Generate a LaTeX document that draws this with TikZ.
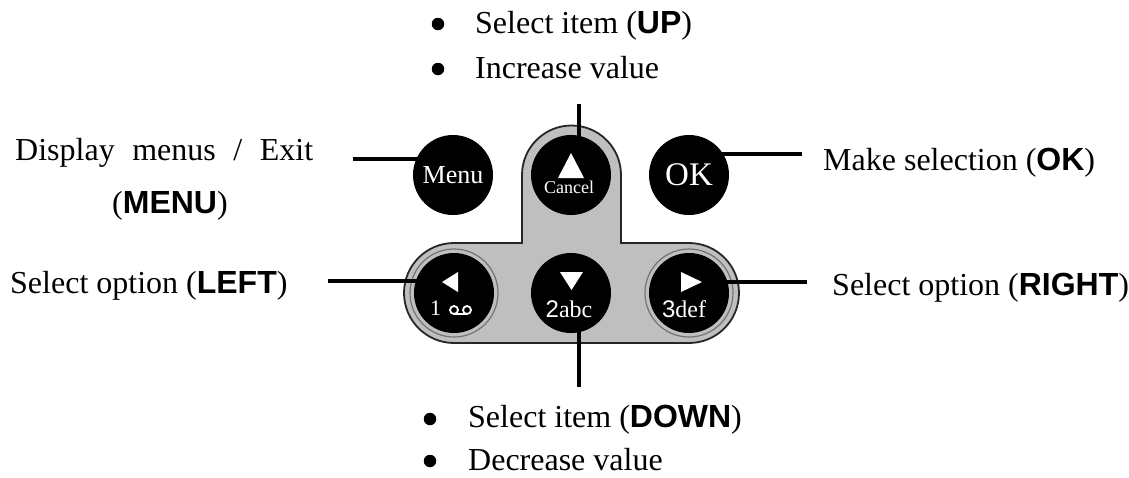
\documentclass[tikz,border=0pt]{standalone}
\usepackage{fontspec}
\setmainfont{Liberation Serif}
\setsansfont{Liberation Sans}
\usetikzlibrary{backgrounds}
\newcommand{\keyname}[1]{{\sffamily\bfseries #1}}
\begin{document}
\begin{tikzpicture}[x=1pt,y=-1pt,
    txt/.style={font=\fontsize{32}{38}\selectfont,inner sep=0pt,anchor=base west},
    button/.style={circle,fill=black,inner sep=0pt,minimum size=80pt,text=white},
    keytxt/.style={text=white,inner sep=0pt,anchor=base},
    dot/.style={circle,fill=black,inner sep=0pt,minimum size=12.5pt},
    wire/.style={line width=3.4pt},
    pad/.style={fill=black!25,draw=black!85,line width=1.8pt}]
\useasboundingbox (0,0) rectangle (1129,477);

\node[button,font=\fontsize{26}{30}\selectfont] (menu) at (453,175) {Menu};
\node[button] (cancel) at (571,175) {};
\node[button,font=\fontsize{33}{38}\selectfont] (ok) at (689,175) {OK};
\node[button] (left) at (454,293) {};
\node[button] (down) at (571,293) {};
\node[button] (right) at (689,293) {};

\fill[white] (571,153) -- (584,178) -- (558,178) -- cycle;
\fill[white] (442,282) -- (458,272) -- (458,292) -- cycle;
\fill[white] (560,272) -- (583,272) -- (571.5,290) -- cycle;
\fill[white] (681,272) -- (702,282) -- (681,292) -- cycle;
\node[keytxt,font=\fontsize{18}{20}\selectfont] (canceltxt) at (569,193) {Cancel};
\node[keytxt,anchor=base west,font=\fontsize{22}{24}\selectfont] (lefttxt) at (430,315) {1};
\draw[white,line width=1.8pt] (454,310) circle[radius=4pt] (467,310) circle[radius=4pt];
\draw[white,line width=1.8pt] (454,314) -- (467,314);
\node[keytxt,font=\fontsize{24}{26}\selectfont] (downtxt) at (569,317) {\textsf{2}abc};
\node[keytxt,font=\fontsize{24}{26}\selectfont] (righttxt) at (684,317) {\textsf{3}def};

\coordinate (mw) at (353,159);
\coordinate (oe) at (802,154);
\coordinate (lw) at (328,281);
\coordinate (re) at (807,282);
\coordinate (un) at (579,104);
\coordinate (ds) at (579,387);

\begin{scope}[on background layer]
\draw[pad] (522,243) -- (522,175) arc[start angle=180,end angle=0,radius=49.5pt]
    -- (621,243) -- (689,243) arc[start angle=90,end angle=-90,radius=50pt]
    -- (454,343) arc[start angle=270,end angle=90,radius=50pt] -- cycle;
\draw[black!55,line width=1.2pt] (left) circle[radius=44pt] (right) circle[radius=44pt];
\draw[wire] (mw) -- (mw -| menu.center);
\draw[wire] (oe) -- (oe -| ok.center);
\draw[wire] (lw) -- (lw -| left.center);
\draw[wire] (re) -- (re -| right.center);
\draw[wire] (un) -- (un |- cancel.center);
\draw[wire] (ds) -- (ds |- down.center);
\end{scope}

\node[dot] (upadot) at (438,24) {};
\node[dot] (upbdot) at (438,69) {};
\node[txt] (upa) at (475,33) {Select item (\keyname{UP})};
\node[txt] (upb) at (475,78) {Increase value};
\node[dot] (dnadot) at (430,419) {};
\node[dot] (dnbdot) at (430,461) {};
\node[txt] (dna) at (468,427) {Select item (\keyname{DOWN})};
\node[txt] (dnb) at (468,470) {Decrease value};
\node[txt] (menua) at (15,160) {\makebox[298pt][s]{Display menus / Exit}};
\node[txt,anchor=base] (menub) at (170,213) {(\keyname{MENU})};
\node[txt] (lefta) at (10,293) {Select option (\keyname{LEFT})};
\node[txt] (oka) at (823,170) {Make selection (\keyname{OK})};
\node[txt] (righta) at (832,295) {Select option (\keyname{RIGHT})};
\end{tikzpicture}
\end{document}
